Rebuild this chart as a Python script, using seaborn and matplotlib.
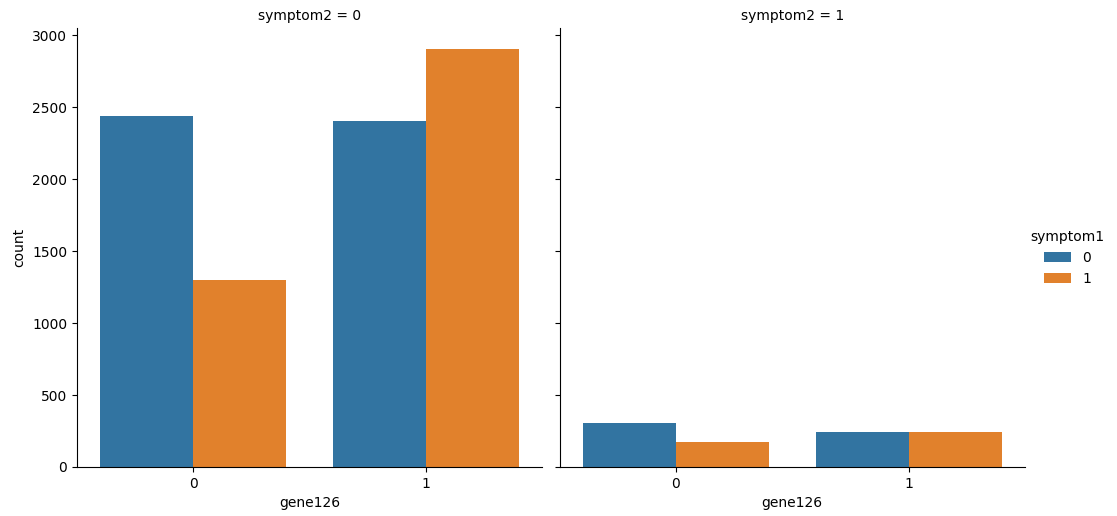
import numpy as np
import pandas as pd
import matplotlib
matplotlib.use("Agg")
import matplotlib.pyplot as plt
import seaborn as sns

# Observed counts per (symptom2, gene126, symptom1) group
symptom2_levels = [0, 0, 0, 0, 1, 1, 1, 1]
gene126_levels = [0, 0, 1, 1, 0, 0, 1, 1]
symptom1_levels = [0, 1, 0, 1, 0, 1, 0, 1]
group_counts = [2440, 1300, 2405, 2905, 305, 176, 246, 246]

# Expand the group counts back to one row per record
df = pd.DataFrame({
    "symptom2": np.repeat(symptom2_levels, group_counts),
    "gene126": np.repeat(gene126_levels, group_counts),
    "symptom1": np.repeat(symptom1_levels, group_counts),
})

plt.rcParams["font.family"] = ["DejaVu Sans"]

DPI = 100
g = sns.catplot(data=df, x="gene126", hue="symptom1", col="symptom2",
                kind="count", height=5, aspect=1.0,
                palette=["#1f77b4", "#ff7f0e"], saturation=0.75,
                linewidth=0)

fig = g.figure
fig.set_size_inches(1117 / DPI, 516 / DPI)
fig.set_dpi(DPI)
fig.subplots_adjust(left=0.069, right=0.9176, top=0.9457, bottom=0.095,
                    wspace=0.037)

fig.savefig("out.png", dpi=DPI)
